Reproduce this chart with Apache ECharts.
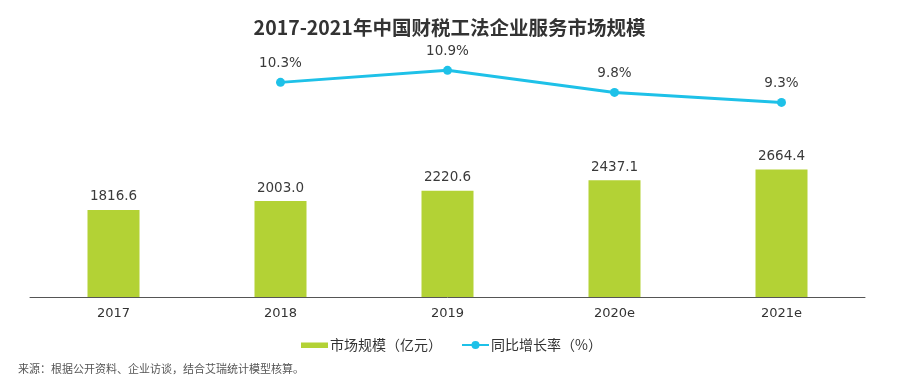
<!DOCTYPE html>
<html><head><meta charset="utf-8">
<script src="https://cdn.jsdelivr.net/npm/echarts@6/dist/echarts.min.js"></script>
<style>html,body{margin:0;padding:0;background:#fff}#c{width:899px;height:385px}</style>
</head><body><div id="c"></div>
<script>
const categories = ['2017','2018','2019','2020e','2021e'];
const marketSize = [1816.6, 2003.0, 2220.6, 2437.1, 2664.4];
const growthRate = [null, 10.3, 10.9, 9.8, 9.3];
const titleText = '2017-2021年中国财税工法企业服务市场规模';
const legendNames = ['市场规模（亿元）', '同比增长率（%）'];
const sourceText = '来源：根据公开资料、企业访谈，结合艾瑞统计模型核算。';

const numFont = 'DejaVu Sans, Verdana, sans-serif';
const cjkFont = '"Noto Sans CJK SC", sans-serif';
const rectIcon = 'path://M0,0L0.01,0L0.01,0.01Z M0,10L0.01,10L0.01,9.99Z M0,2.5L27,2.5L27,8L0,8Z';
const chart = echarts.init(document.getElementById('c'));
chart.setOption({
  animation: false,
  title: [{
    text: titleText, left: 'center', top: 13,
    textStyle: {fontSize: 19.5, fontWeight: 'bold', color: '#333', fontFamily: cjkFont}
  }, {
    text: sourceText, left: 13, top: 358,
    textStyle: {fontSize: 11, fontWeight: 'normal', color: '#555', fontFamily: cjkFont}
  }],
  legend: {
    left: 301, top: 338, padding: 0, itemGap: 19, itemWidth: 27, itemHeight: 10,
    textStyle: {fontSize: 14, color: '#333', fontFamily: cjkFont, padding: [0, 0, 0, -3]},
    data: [{name: legendNames[0], icon: rectIcon}, {name: legendNames[1]}]
  },
  grid: {left: 30, right: 34, top: 57.5, bottom: 88},
  xAxis: {
    type: 'category', data: categories,
    axisLine: {lineStyle: {color: '#555', width: 1}},
    axisTick: {show: false},
    axisLabel: {fontSize: 13, color: '#333', margin: 10, fontFamily: numFont}
  },
  yAxis: [{
    type: 'value', min: 0, max: 5000, show: false, splitLine: {show: false}
  }, {
    type: 'value', min: -0.4, max: 11.54, show: false, splitLine: {show: false}
  }],
  series: [{
    name: legendNames[0], type: 'bar', data: marketSize, barWidth: 52,
    itemStyle: {color: '#B3D235'},
    label: {show: true, position: 'top', distance: 6, fontSize: 13.5, color: '#3a3a3a',
      fontFamily: numFont, formatter: p => p.value.toFixed(1)}
  }, {
    name: legendNames[1], type: 'line', yAxisIndex: 1, data: growthRate,
    symbol: 'circle', symbolSize: 9, connectNulls: false,
    lineStyle: {color: '#1EC1E8', width: 3},
    itemStyle: {color: '#1EC1E8'},
    label: {show: true, position: 'top', distance: 7, fontSize: 13.5, color: '#3a3a3a',
      fontFamily: numFont, formatter: p => p.value.toFixed(1) + '%'}
  }]
});
</script></body></html>
